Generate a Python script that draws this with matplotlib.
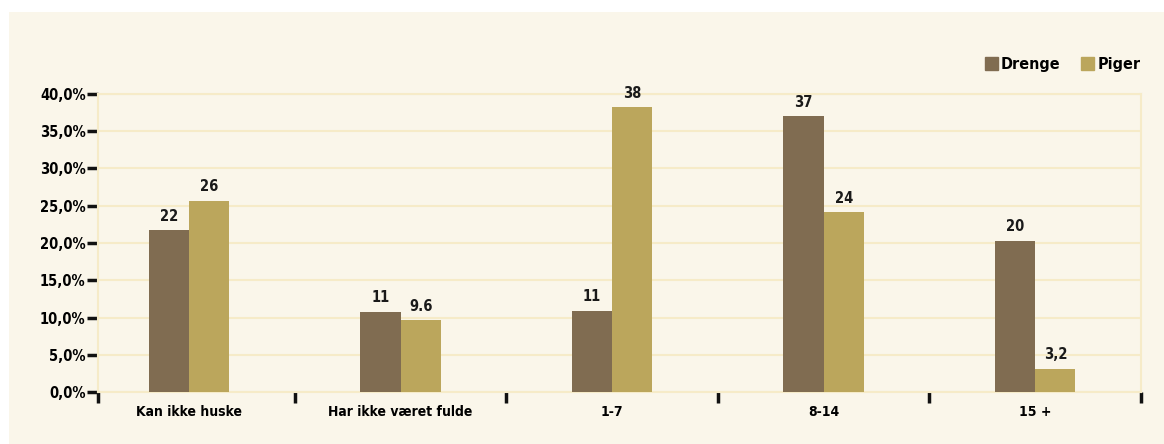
import matplotlib

matplotlib.use("Agg")

import matplotlib.pyplot as plt
from matplotlib.patches import Patch, Rectangle
import numpy as np

categories = ["Kan ikke huske", "Har ikke været fulde", "1-7", "8-14", "15 +"]
drenge = [21.7, 10.8, 10.9, 37.0, 20.3]
piger = [25.7, 9.6, 38.2, 24.1, 3.1]
drenge_labels = ["22", "11", "11", "37", "20"]
piger_labels = ["26", "9.6", "38", "24", "3,2"]
yticks = [0, 5, 10, 15, 20, 25, 30, 35, 40]

C_DRENGE = "#806C51"
C_PIGER = "#BBA65C"
BG = "#FAF6EA"
GRID = "#F6EBC8"

plt.rcParams["font.family"] = ["DejaVu Sans"]
plt.rcParams["font.stretch"] = "condensed"
plt.rcParams["font.weight"] = "bold"

fig = plt.figure(figsize=(11.64, 4.44), dpi=100, facecolor="white")
fig.patches.append(Rectangle((9 / 1164, 0), 1, 1 - 12 / 444, transform=fig.transFigure,
                             facecolor=BG, edgecolor="none", zorder=-5))
ax = fig.add_axes([98 / 1164, 1 - 392 / 444, (1141 - 98) / 1164, (392 - 94) / 444])
ax.set_facecolor(BG)

x = np.arange(len(categories))
w = 0.19
b1 = ax.bar(x - w / 2, drenge, w, color=C_DRENGE, zorder=3)
b2 = ax.bar(x + w / 2, piger, w, color=C_PIGER, zorder=3)
for bars, labels in ((b1, drenge_labels), (b2, piger_labels)):
    for bar, lab in zip(bars, labels):
        ax.text(bar.get_x() + bar.get_width() / 2, bar.get_height() + 0.9, lab,
                ha="center", va="bottom", fontsize=10.5, fontweight="bold", color="#1a1a1a")

left = -0.43
ax.set_xlim(left, len(categories) - 0.5)
ax.set_ylim(0, 40)

ax.set_yticks(yticks)
ax.set_yticklabels([f"{v:.1f}%".replace(".", ",") for v in yticks], fontsize=10.5, fontweight="bold")
ax.tick_params(axis="y", direction="out", length=8, width=2.5, color="#111111", pad=1)

ax.set_xticks([left] + list(x[:-1] + 0.5) + [len(categories) - 0.5])
ax.set_xticklabels([])
ax.tick_params(axis="x", direction="out", length=8, width=2.5, color="#111111")
ax.set_xticks(x, minor=True)
ax.set_xticklabels(categories, minor=True, fontsize=10, fontweight="bold")
ax.tick_params(axis="x", which="minor", length=0, pad=9)

ax.grid(axis="y", color=GRID, linewidth=1.5, zorder=0)
for s in ax.spines.values():
    s.set_color(GRID)
    s.set_linewidth(1.5)

handles = [Patch(color=C_DRENGE, label="Drenge"), Patch(color=C_PIGER, label="Piger")]
fig.legend(handles=handles, loc="upper right", bbox_to_anchor=(0.992, 0.905), ncol=2,
           frameon=False, handlelength=0.8, handleheight=0.9, handletextpad=0.2,
           columnspacing=1.3, prop={"size": 11.5, "weight": "bold"})

fig.savefig("out.png", dpi=100, facecolor=fig.get_facecolor())
